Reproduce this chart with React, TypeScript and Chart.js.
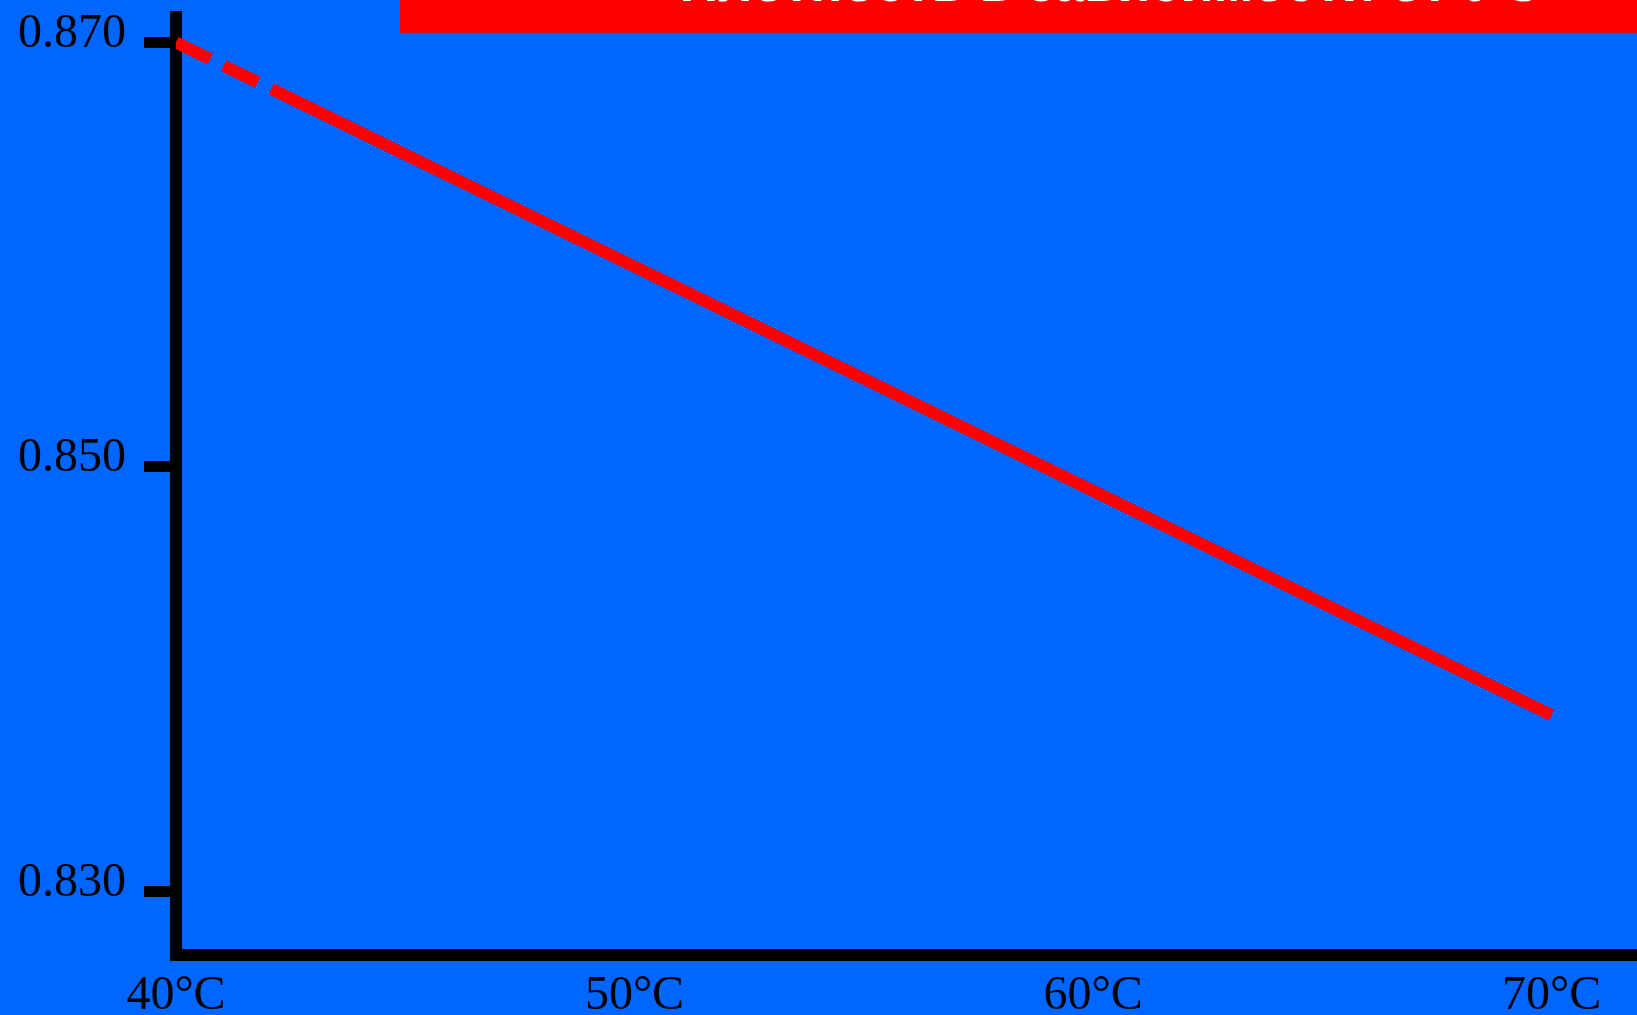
import React, { useEffect, useRef } from 'react';
import { Chart, registerables } from 'chart.js';

Chart.register(...registerables);

// ---- data ----
const temperatures = [40, 70];
const densities = [0.870, 0.8383];
const xTickValues = [40, 50, 60, 70];
const yTickValues = [0.830, 0.850, 0.870];
const titleText = 'Плотность в зависимости от t°C';
const seriesLabel = 'Плотность';

// ---- scale ranges ----
const X_MIN = 40;
const X_MAX = 84.6;
const Y_MIN = 0.827;
const Y_MAX = 0.8712;

const CANVAS_W = 2221;
const CANVAS_H = 1100;
const CANVAS_TOP = -56;

const SERIF = "'Liberation Serif', 'Times New Roman', Times, serif";
const SANS = "'Liberation Sans', Arial, Helvetica, sans-serif";

export default function App() {
  const ref = useRef<HTMLCanvasElement>(null);

  useEffect(() => {
    const canvas = ref.current;
    if (!canvas) return;

    const bgPlugin = {
      id: 'bgAndTitleBox',
      beforeDraw(chart: any) {
        const { ctx, width, height } = chart;
        ctx.save();
        ctx.fillStyle = '#0066FF';
        ctx.fillRect(0, 0, width, height);
        const tb = chart.titleBlock;
        if (tb) {
          ctx.fillStyle = '#FF0000';
          const inset = 400;
          ctx.fillRect(tb.left + inset, 0, tb.width - inset * 2, tb.bottom + 16);
        }
        ctx.restore();
      },
    };

    const chart = new Chart(canvas, {
      type: 'line',
      data: {
        datasets: [
          {
            label: seriesLabel,
            data: temperatures.map((t, i) => ({ x: t, y: densities[i] })),
            borderColor: '#FF0000',
            borderWidth: 12,
            borderDash: [38, 15, 38, 15, 4000, 15],
            borderCapStyle: 'butt',
            pointRadius: 0,
            pointHoverRadius: 0,
            fill: false,
            tension: 0,
          },
        ],
      },
      options: {
        responsive: false,
        animation: false,
        devicePixelRatio: 1,
        layout: { padding: 0 },
        plugins: {
          legend: { display: false },
          tooltip: { enabled: false },
          title: {
            display: true,
            text: titleText,
            color: '#FFFFFF',
            align: 'center',
            font: { family: SANS, size: 54, weight: 'bold', lineHeight: 1.2 },
            padding: { top: 10, bottom: -2 },
          },
        },
        scales: {
          x: {
            type: 'linear',
            min: X_MIN,
            max: X_MAX,
            afterBuildTicks: (s: any) => {
              s.ticks = xTickValues.map((v) => ({ value: v }));
            },
            afterFit: (s: any) => {
              s.height = 89;
            },
            ticks: {
              callback: (v: any) => `${v}°C`,
              color: '#000000',
              font: { family: SERIF, size: 48 },
              padding: 13,
              maxRotation: 0,
              minRotation: 0,
              autoSkip: false,
            },
            grid: { display: false, drawTicks: false },
            border: { display: true, color: '#000000', width: 12 },
          },
          y: {
            type: 'linear',
            min: Y_MIN,
            max: Y_MAX,
            afterBuildTicks: (s: any) => {
              s.ticks = yTickValues.map((v) => ({ value: v }));
            },
            afterFit: (s: any) => {
              s.width = 176;
            },
            ticks: {
              callback: (v: any) => Number(v).toFixed(3),
              color: '#000000',
              font: { family: SERIF, size: 48 },
              padding: 18,
              labelOffset: -8,
              autoSkip: false,
            },
            grid: {
              display: true,
              drawOnChartArea: false,
              drawTicks: true,
              tickLength: 32,
              tickWidth: 11,
              tickColor: '#000000',
            },
            border: { display: true, color: '#000000', width: 12 },
          },
        },
      },
      plugins: [bgPlugin],
    } as any);

    return () => chart.destroy();
  }, []);

  return (
    <div
      style={{
        position: 'fixed',
        left: 0,
        top: 0,
        width: '100vw',
        height: '100vh',
        overflow: 'hidden',
        background: '#0066FF',
      }}
    >
      <canvas
        ref={ref}
        width={CANVAS_W}
        height={CANVAS_H}
        style={{
          position: 'absolute',
          left: 0,
          top: CANVAS_TOP,
          width: CANVAS_W,
          height: CANVAS_H,
        }}
      />
    </div>
  );
}
